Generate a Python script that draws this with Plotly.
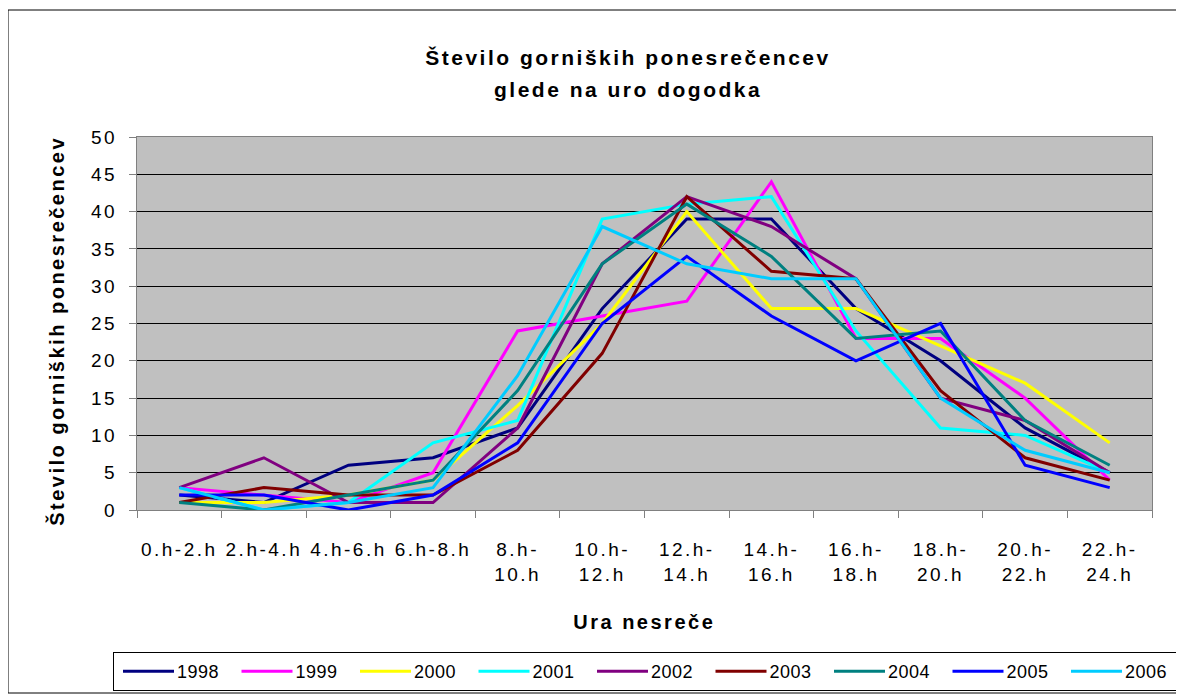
import plotly.graph_objects as go

categories = ["0.h-2.h", "2.h-4.h", "4.h-6.h", "6.h-8.h", "8.h-<br>10.h", "10.h-<br>12.h",
              "12.h-<br>14.h", "14.h-<br>16.h", "16.h-<br>18.h", "18.h-<br>20.h",
              "20.h-<br>22.h", "22.h-<br>24.h"]

y1998 = [2, 1, 6, 7, 11, 27, 39, 39, 27, 20, 11, 5]
y1999 = [3, 2, 1, 5, 24, 26, 28, 44, 23, 23, 15, 4]
y2000 = [1, 1, 2, 4, 14, 25, 40, 27, 27, 22, 17, 9]
y2001 = [3, 0, 1, 9, 12, 39, 41, 42, 24, 11, 10, 5]
y2002 = [3, 7, 1, 1, 11, 33, 42, 38, 31, 15, 12, 5]
y2003 = [1, 3, 2, 2, 8, 21, 42, 32, 31, 16, 7, 4]
y2004 = [1, 0, 2, 4, 16, 33, 41, 34, 23, 24, 12, 6]
y2005 = [2, 2, 0, 2, 9, 25, 34, 26, 20, 25, 6, 3]
y2006 = [3, 0, 1, 3, 18, 38, 33, 31, 31, 15, 8, 5]

series = [
    ("1998", y1998, "#000080"),
    ("1999", y1999, "#FF00FF"),
    ("2000", y2000, "#FFFF00"),
    ("2001", y2001, "#00FFFF"),
    ("2002", y2002, "#800080"),
    ("2003", y2003, "#800000"),
    ("2004", y2004, "#008080"),
    ("2005", y2005, "#0000FF"),
    ("2006", y2006, "#00CCFF"),
]

title_line1 = "Število gorniških ponesrečencev"
title_line2 = "glede na uro dogodka"
x_title = "Ura nesreče"
y_title = "Število gorniških ponesrečencev"

FONT = "Liberation Sans, Arial, sans-serif"

fig = go.Figure()
for name, vals, col in series:
    fig.add_trace(go.Scatter(x=categories, y=vals, name=name, mode="lines",
                             line=dict(color=col, width=3)))

# page has an 8px body margin; figure coords = page coords - 8
W, H = 1176, 687
L, R, T, B = 129, 32, 129, 185
pw, ph = W - L - R, H - T - B

def px(x):
    return (x - 8 - L) / pw

def py(y):
    return (H - B - (y - 8)) / ph

fig.update_layout(
    width=W, height=H,
    margin=dict(l=L, r=R, t=T, b=B, autoexpand=False),
    paper_bgcolor="white",
    plot_bgcolor="#C0C0C0",
    font=dict(family=FONT, size=19, color="black"),
    showlegend=True,
    legend=dict(orientation="h", x=px(113), xanchor="left", y=py(652), yanchor="top",
                bordercolor="black", borderwidth=1, bgcolor="white",
                font=dict(size=18, family=FONT), itemwidth=53,
                entrywidth=50.5, entrywidthmode="pixels", tracegroupgap=0),
    xaxis=dict(
        type="category", automargin=False,
        tickson="boundaries", ticks="outside", ticklen=7, tickcolor="#808080",
        showline=True, linecolor="#808080", linewidth=1, mirror=True,
        showgrid=False, tickfont=dict(size=19), tickangle=0, ticklabelstandoff=22,
        range=[-0.5, 11.5],
    ),
    yaxis=dict(
        automargin=False,
        range=[0, 50], dtick=5, ticks="outside", ticklen=7, tickcolor="#808080",
        showline=True, linecolor="#808080", linewidth=1, mirror=True,
        showgrid=True, gridcolor="black", gridwidth=1, zeroline=False,
        tickfont=dict(size=19), ticklabelstandoff=8,
    ),
    annotations=[
        dict(text="<b>" + title_line1 + "</b>", xref="paper", yref="paper",
             x=px(628), y=py(57), xanchor="center", yanchor="middle",
             showarrow=False, font=dict(size=21, family=FONT)),
        dict(text="<b>" + title_line2 + "</b>", xref="paper", yref="paper",
             x=px(628), y=py(90), xanchor="center", yanchor="middle",
             showarrow=False, font=dict(size=21, family=FONT)),
        dict(text="<b>" + x_title + "</b>", xref="paper", yref="paper",
             x=px(644), y=py(622), xanchor="center", yanchor="middle",
             showarrow=False, font=dict(size=20, family=FONT)),
        dict(text="<b>" + y_title + "</b>", xref="paper", yref="paper",
             x=px(56), y=py(331), xanchor="center", yanchor="middle", textangle=-90,
             showarrow=False, font=dict(size=20, family=FONT)),
    ],
    shapes=[dict(type="rect", xref="paper", yref="paper",
                 x0=px(8), x1=px(1182), y0=py(693), y1=py(10),
                 line=dict(color="black", width=1), layer="below")],
)

post = """
var gd = document.getElementById('{plot_id}');
function fixText(){
  gd.querySelectorAll('text').forEach(function(t){ t.style.letterSpacing = '2.5px'; });
  gd.querySelectorAll('.legendtext').forEach(function(t){ t.style.letterSpacing = '0.5px'; });
  gd.querySelectorAll('.legendlines path').forEach(function(p){ p.setAttribute('d', 'M9,0h51'); });
}
fixText();
gd.on('plotly_afterplot', fixText);
"""

fig.write_html("out.html", post_script=post)
